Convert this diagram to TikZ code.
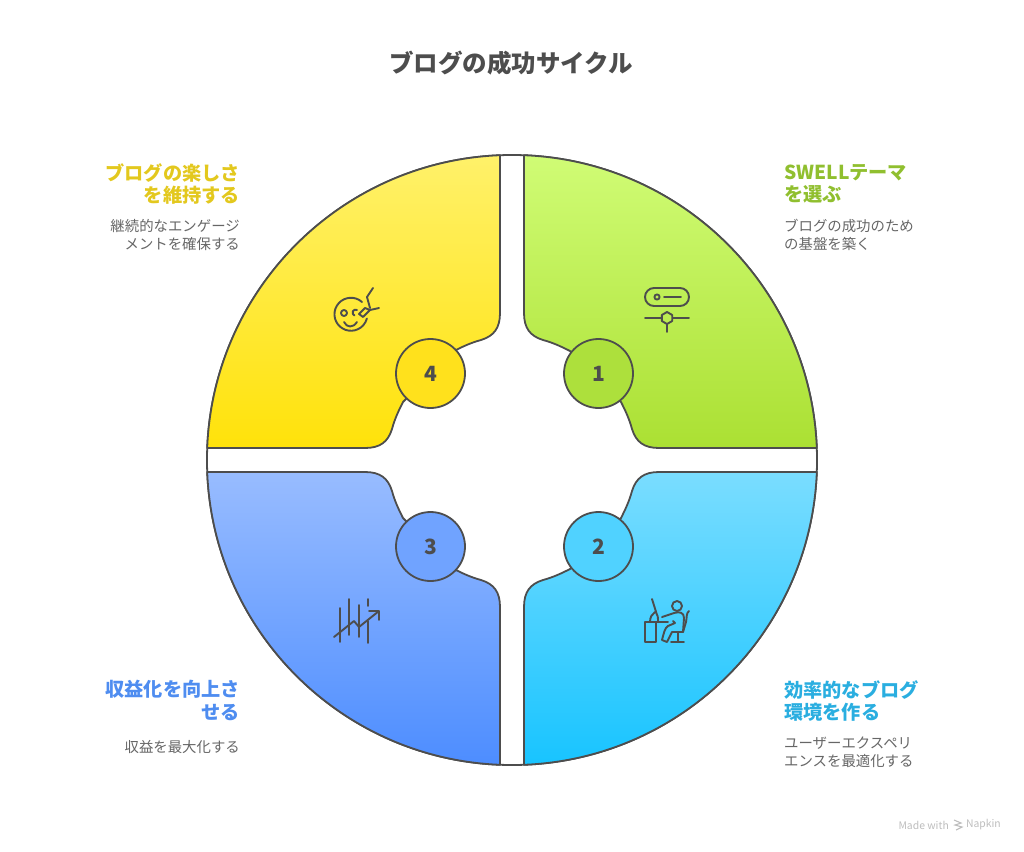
\documentclass[tikz,border=0pt]{standalone}
\usepackage{fontspec}
\setmainfont{Noto Sans CJK JP}
\usetikzlibrary{positioning}
\definecolor{outline}{HTML}{4D4D4D}
\definecolor{notegray}{HTML}{666666}
\definecolor{marktext}{HTML}{BDBDBD}
\definecolor{greentext}{HTML}{90BF2F}
\definecolor{bluetext}{HTML}{2AAEE0}
\definecolor{indigotext}{HTML}{4F8DF0}
\definecolor{yellowtext}{HTML}{E3C81E}
\definecolor{greentop}{HTML}{D0FC75}
\definecolor{greenlow}{HTML}{ABE033}
\definecolor{bluetop}{HTML}{7ADDFF}
\definecolor{bluelow}{HTML}{18C4FF}
\definecolor{indigotop}{HTML}{98BCFF}
\definecolor{indigolow}{HTML}{4D8DFF}
\definecolor{yellowtop}{HTML}{FFF16A}
\definecolor{yellowlow}{HTML}{FFE20A}
\definecolor{greendisc}{HTML}{ADE03C}
\definecolor{bluedisc}{HTML}{50D2FF}
\definecolor{indigodisc}{HTML}{70A3FF}
\definecolor{yellowdisc}{HTML}{FFE11C}
\tikzset{
  petal/.style={draw=outline,line width=1.8pt,line join=round},
  numdisc/.style={circle,draw=outline,line width=1.8pt,minimum size=69pt,inner sep=0pt,text=outline,font=\fontsize{21}{24}\selectfont\bfseries},
  headtext/.style={inner sep=0pt,font=\fontsize{19.2}{22.5}\selectfont\bfseries},
  notetext/.style={inner sep=0pt,text=notegray,font=\fontsize{14.4}{17.7}\selectfont},
  glyph/.style={draw=outline,line width=1.9pt,line cap=round,line join=round},
}
% #1,#2: direction of the quadrant
\newcommand{\petalpath}[2]{
  ({512+#1*12},{460+#2*304.8}) -- ({512+#1*12},{460+#2*147})
  .. controls ({512+#1*12},{460+#2*132}) and ({512+#1*18},{460+#2*124}) .. ({512+#1*31},{460+#2*120})
  .. controls ({512+#1*42},{460+#2*117}) and ({512+#1*50},{460+#2*113}) .. ({512+#1*58},{460+#2*109})
  -- ({512+#1*109},{460+#2*58})
  .. controls ({512+#1*113},{460+#2*50}) and ({512+#1*117},{460+#2*42}) .. ({512+#1*120},{460+#2*31})
  .. controls ({512+#1*124},{460+#2*18}) and ({512+#1*132},{460+#2*12}) .. ({512+#1*147},{460+#2*12})
  -- ({512+#1*304.8},{460+#2*12})
  arc[start angle=2.25,end angle=87.75,x radius=#1*305,y radius=#2*305] -- cycle
}
\begin{document}
\begin{tikzpicture}[x=1pt,y=-1pt]
\useasboundingbox (0,0) rectangle (1024,851);
\node[font=\fontsize{24.5}{28}\selectfont\bfseries,text=outline] (title) at (511,63) {ブログの成功サイクル};

\draw[petal] (512,460) circle (305);
\draw[petal,top color=greentop,bottom color=greenlow] \petalpath{1}{-1};
\draw[petal,top color=bluetop,bottom color=bluelow] \petalpath{1}{1};
\draw[petal,top color=indigotop,bottom color=indigolow] \petalpath{-1}{1};
\draw[petal,top color=yellowtop,bottom color=yellowlow] \petalpath{-1}{-1};

\node[numdisc,fill=greendisc] (one) at (598.5,373.5) {1};
\node[numdisc,fill=bluedisc] (two) at (598.5,546.5) {2};
\node[numdisc,fill=indigodisc] (three) at (430.5,546.5) {3};
\node[numdisc,fill=yellowdisc] (four) at (430.5,373.5) {4};

% icon 1
\draw[glyph,rounded corners=9pt] (645,288) rectangle (689,306);
\draw[glyph] (657,297) circle (2.6);
\draw[glyph] (664,297) -- (681,297);
\draw[glyph] (645,318) -- (661,318) (673,318) -- (689,318) (667,324) -- (667,332);
\draw[glyph] (667,312) -- (672.2,315) -- (672.2,321) -- (667,324) -- (661.8,321) -- (661.8,315) -- cycle;

% icon 2
\draw[glyph] (677,606) circle (5);
\draw[glyph] (645,622) -- (668,622) (645,622) rectangle (656,642);
\draw[glyph] (652,599) -- (657,615) (650,622) .. controls (650,617) and (652,614) .. (655,612) (656,612) .. controls (658,615) and (658,618) .. (658,622);
\draw[glyph] (662,617) -- (674,613) .. controls (680,611) and (684,613) .. (684,618) -- (683,632) -- (672,632) -- (667,642) -- (662,640) .. controls (664,632) and (665,628) .. (668,626) -- (675,623) -- (673,621);
\draw[glyph] (689,611) .. controls (686,613) and (687,618) .. (686,622) -- (683,632) (678,632) -- (678,642) (671,642) -- (684,642);

% icon 3
\draw[glyph] (340,608) -- (340,642) (349,599) -- (349,635) (359,605) -- (359,637) (368,599) -- (368,606) (368,621) -- (368,643);
\draw[glyph] (334,637) -- (354,621) -- (359,627) -- (379,611) (369,611) -- (379,611) -- (379,620);

% icon 4
\draw[glyph] (362,302) arc[start angle=-48,end angle=-345,radius=16.5];
\draw[glyph] (344,313) circle (3);
\draw[glyph] (357,310) arc[start angle=-60,end angle=-250,radius=3];
\draw[glyph] (344,322) .. controls (347,328) and (353,328) .. (357,322);
\draw[glyph] (359,314) -- (365,308) -- (370,310) -- (363,317) -- cycle;
\draw[glyph] (373,288) -- (367,297) -- (370,308) (370,310) -- (379,308);

% texts on the right
\node[headtext,text=greentext,anchor=north west,align=left] (swellhead) at (784,164) {SWELLテーマ\\を選ぶ};
\node[notetext,anchor=north west,align=left] (swellnote) at (784,219) {ブログの成功のため\\の基盤を築く};
\node[headtext,text=bluetext,anchor=north west,align=left] (envhead) at (784,680) {効率的なブログ\\環境を作る};
\node[notetext,anchor=north west,align=left] (envnote) at (784,737) {ユーザーエクスペリ\\エンスを最適化する};
% texts on the left
\node[headtext,text=indigotext,anchor=north east,align=right] (profithead) at (240,680) {収益化を向上さ\\せる};
\node[notetext,anchor=north east,align=right] (profitnote) at (240,740) {収益を最大化する};
\node[headtext,text=yellowtext,anchor=north east,align=right] (funhead) at (240,163) {ブログの楽しさ\\を維持する};
\node[notetext,anchor=north east,align=right] (funnote) at (240,219) {継続的なエンゲージ\\メントを確保する};

\node[text=marktext,anchor=east,inner sep=0pt,font=\fontsize{10.4}{12}\selectfont] (markb) at (1001,825) {Napkin};
\node[text=marktext,anchor=east,inner sep=0pt,font=\fontsize{10.4}{12}\selectfont] (marka) at (949,825) {Made with};
\draw[marktext,line width=1.1pt] (954,820) -- (961,823) -- (955,825) -- (962,827) -- (956,830);
\end{tikzpicture}
\end{document}
